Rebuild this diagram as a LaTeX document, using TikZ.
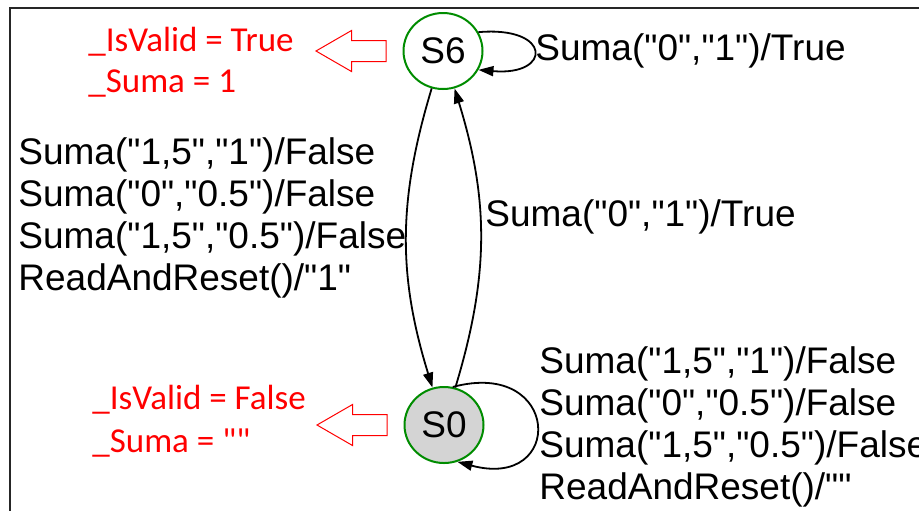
\documentclass[tikz,border=0pt]{standalone}
\usepackage{fontspec}
\setmainfont{Liberation Sans}[Ligatures=TeXOff]
\newfontfamily\notefont{Carlito}[Ligatures=TeXOff]
\usepackage{tikz}
\usetikzlibrary{arrows.meta,positioning,shapes.geometric,shapes.arrows}

\begin{document}
\begin{tikzpicture}[
  x=0.5pt,
  y=-0.5pt,
  state/.style={
    ellipse,
    draw=green!55!black,
    line width=1pt,
    inner sep=0pt,
    minimum width=39.5pt,
    minimum height=38pt,
    font=\fontsize{18.5}{21}\selectfont
  },
  flow/.style={
    -{Triangle[length=7.5pt,width=5pt]},
    draw=black,
    line width=0.9pt
  },
  trans/.style={
    anchor=west,
    align=left,
    inner sep=0pt,
    font=\fontsize{18.5}{21}\selectfont
  },
  effect/.style={
    anchor=west,
    align=left,
    inner sep=0pt,
    text=red,
    font=\notefont\fontsize{17.5}{20.5}\selectfont
  },
  hollow/.style={
    single arrow,
    shape border rotate=180,
    draw=red,
    fill=white,
    line width=0.5pt,
    inner xsep=0pt,
    inner ysep=5pt,
    minimum height=35pt,
    minimum width=20pt,
    single arrow head extend=5pt,
    single arrow tip angle=60
  }
]

\clip (0,0) rectangle (919,510);

% Outer frame
\draw[line width=1.2pt, black!85] (10,8) rectangle (940,530);

% States
\node[state] (s6) at (443,51) {S6};
\node[state, fill=black!17] (s0) at (444,425) {S0};

% Variable values of each state
\node[hollow, left=8pt of s6] (mark6) {};
\node[hollow, left=8pt of s0] (mark0) {};
\node[effect] (vars6) at (88,62) {\_IsValid = True\\\_Suma = 1};
\node[effect, font=\notefont\fontsize{17.5}{21.5}\selectfont] (vars0) at (92,421) {\_IsValid = False\\\_Suma = ""};

% Transitions
\draw[flow] (s6.28) .. controls +(5:37pt) and +(-5:37pt) .. (s6.-28);
\draw[flow] (s6) to[bend right=17] (s0);
\draw[flow] (s0) to[bend right=17] (s6);
\draw[flow] (s0.77) .. controls +(15:56pt) and +(-15:56pt) .. (s0.-70);

% Transition labels
\node[trans] (lblself6) at (535,51) {Suma("0","1")/True};
\node[trans] (lbldown) at (18,218) {
  Suma("1,5","1")/False\\
  Suma("0","0.5")/False\\
  Suma("1,5","0.5")/False\\
  ReadAndReset()/"1"
};
\node[trans] (lblup) at (485,217) {Suma("0","1")/True};
\node[trans] (lblself0) at (539,427) {
  Suma("1,5","1")/False\\
  Suma("0","0.5")/False\\
  Suma("1,5","0.5")/False\\
  ReadAndReset()/""
};

\end{tikzpicture}
\end{document}
